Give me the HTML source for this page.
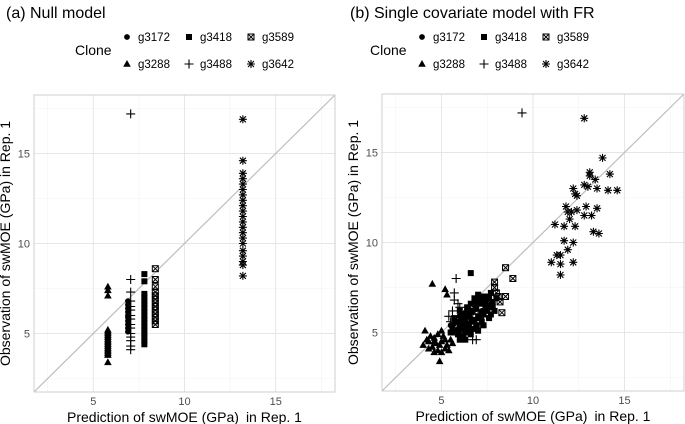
<!DOCTYPE html>
<html><head><meta charset="utf-8"><style>
body{margin:0;background:#fff;}
svg{display:block;font-family:"Liberation Sans",sans-serif;}
</style></head><body>
<svg id="c" width="685" height="424" viewBox="0 0 685 424"></svg>
<script>
// Panel A (null model): predictions per clone and observed values
const clones = ["g3172","g3288","g3418","g3488","g3589","g3642"];
const aPredX = {g3288:5.8,g3172:6.9,g3488:7.05,g3418:7.8,g3589:8.4,g3642:13.2};
const aObsG3288 = [3.4,3.8,3.9,4.0,4.1,4.2,4.3,4.4,4.5,4.6,4.7,4.8,4.9,5.0,5.1,5.2,7.1,7.4,7.6];
const aObsG3172 = [5.1,5.3,5.5,5.7,5.9,6.0,6.2,6.4,6.6,6.8];
const aObsG3488 = [4.1,4.3,4.6,4.8,5.0,5.3,5.5,5.8,6.0,6.3,6.5,6.8,7.3,8.0,17.2];
const aObsG3418 = [4.4,4.6,4.8,5.0,5.2,5.4,5.6,5.8,6.0,6.2,6.4,6.6,6.8,7.0,7.2,7.9,8.3];
const aObsG3589 = [5.5,5.7,5.9,6.1,6.3,6.5,6.7,6.9,7.1,7.3,7.6,8.0,8.6];
const aObsG3642 = [8.2,8.8,9.0,9.3,9.6,10.0,10.3,10.6,10.9,11.2,11.5,11.8,12.1,12.4,12.7,13.0,13.3,13.6,13.9,14.6,16.9];
// Panel B (single covariate with FR): [pred, obs]
const bG3642 = [[12.8,16.9],[13.8,14.7],[13.1,13.9],[14.2,13.8],[14.6,12.9],[14.1,12.9],[13.5,13.0],[12.8,13.2],[12.2,13.0],[12.3,12.7],[11.8,12.0],[12.9,12.0],[13.5,11.9],[13.2,11.5],[12.8,11.5],[12.1,11.7],[11.2,11.0],[12.3,10.9],[11.7,10.9],[13.3,10.6],[13.6,10.5],[11.7,10.1],[12.2,10.0],[11.9,9.6],[11.5,9.3],[11.3,9.3],[11.0,8.9],[12.2,8.9],[11.5,8.8],[11.5,8.2],[13.1,13.7],[13.4,13.5],[12.4,12.6],[11.9,11.7],[12.0,11.3],[12.4,11.8],[13.0,13.1]];
const bG3288 = [[4.0,4.3],[4.1,5.1],[4.3,4.5],[4.5,4.2],[4.6,4.7],[4.8,4.0],[4.9,3.4],[5.0,4.5],[5.2,4.1],[4.4,4.8],[4.7,4.4],[5.3,4.3],[5.5,4.6],[5.1,4.8],[4.2,4.6],[4.6,3.9],[5.4,4.0],[4.5,7.7],[5.2,7.4],[5.3,7.1],[5.0,5.1],[4.8,4.9],[5.6,4.4],[4.3,4.1],[4.9,4.3],[5.2,4.6],[4.6,4.5],[5.0,3.9]];
const bG3172 = [[5.5,5.4],[5.8,5.6],[6.0,5.9],[6.3,6.1],[6.5,6.3],[6.8,6.5],[6.1,5.5],[6.6,5.8],[7.0,6.7],[5.9,5.2],[6.4,6.0],[7.2,6.2],[5.6,5.1],[6.2,5.7],[6.7,6.1],[7.1,6.9],[5.7,5.5],[6.9,6.3]];
const bG3488 = [[9.4,17.2],[5.8,8.0],[5.7,7.2],[5.7,6.8],[5.9,6.6],[6.0,6.4],[6.7,4.6],[6.9,4.6],[5.4,5.9],[5.6,6.2],[6.4,5.2],[6.2,5.0],[7.1,5.5],[7.3,5.9],[7.5,6.5],[6.6,5.5],[5.8,5.7],[7.0,6.2],[5.5,5.6],[6.1,6.0]];
const bG3418 = [[6.6,8.3],[5.6,5.3],[5.9,5.6],[6.1,5.8],[6.3,5.7],[6.5,6.0],[6.7,6.2],[6.9,6.4],[7.1,6.6],[7.3,6.8],[7.5,7.0],[7.7,7.2],[6.2,5.3],[6.5,5.5],[6.8,5.7],[7.0,5.9],[7.2,6.1],[7.4,6.3],[7.6,6.5],[7.8,6.7],[8.0,6.9],[6.0,4.6],[6.3,4.6],[6.6,4.9],[7.0,5.1],[7.3,5.4],[7.6,5.8],[7.9,6.2],[5.8,5.0],[6.4,5.9],[6.9,6.8],[7.2,7.0],[6.0,6.2],[5.7,5.8],[6.1,5.2],[6.3,5.4],[6.5,5.2],[6.7,5.6],[6.9,5.4],[7.1,5.8],[7.3,6.0],[7.5,6.2],[7.7,6.0],[6.4,6.4],[6.6,6.6],[6.8,6.9],[7.0,7.1],[7.4,6.6],[7.8,6.4],[6.2,6.0],[6.0,5.4],[5.9,4.9],[6.4,5.0],[6.8,5.2],[7.2,5.6],[7.6,6.9],[5.5,5.0],[6.2,4.8]];
const bG3589 = [[8.5,8.6],[8.9,8.0],[8.5,7.0],[8.3,6.1],[7.9,7.8],[7.9,7.5],[8.2,6.7],[7.4,6.9],[8.0,7.2],[7.7,6.6],[8.1,7.0]];
const ticks = [5,10,15];
const ticksMinor = [2.5,7.5,12.5,17.5];
const DOM = [1.75,18.25];

const NS="http://www.w3.org/2000/svg";
const svg=document.getElementById('c');
function el(tag,attrs,parent){const e=document.createElementNS(NS,tag);for(const k in attrs)e.setAttribute(k,attrs[k]);(parent||svg).appendChild(e);return e;}
function sym(g,type,cx,cy){
  let e;
  if(type==="g3172"){e=el('circle',{cx:cx,cy:cy,r:2.9,fill:'#000'},g);}
  else if(type==="g3418"){e=el('rect',{x:cx-3,y:cy-3,width:6,height:6,fill:'#000'},g);}
  else if(type==="g3288"){e=el('polygon',{points:`${cx},${cy-4} ${cx-3.8},${cy+2.8} ${cx+3.8},${cy+2.8}`,fill:'#000'},g);}
  else if(type==="g3488"){e=el('path',{d:`M${cx-4.5},${cy}H${cx+4.5}M${cx},${cy-4.5}V${cy+4.5}`,stroke:'#000','stroke-width':1.1,fill:'none'},g);}
  else if(type==="g3589"){e=el('g',{},g);el('rect',{x:cx-3,y:cy-3,width:6,height:6,fill:'none',stroke:'#000','stroke-width':1},e);el('path',{d:`M${cx-3},${cy-3}L${cx+3},${cy+3}M${cx+3},${cy-3}L${cx-3},${cy+3}`,stroke:'#000','stroke-width':1},e);}
  else {e=el('path',{d:`M${cx-4},${cy}H${cx+4}M${cx},${cy-4}V${cy+4}M${cx-3},${cy-3}L${cx+3},${cy+3}M${cx+3},${cy-3}L${cx-3},${cy+3}`,stroke:'#000','stroke-width':1.1},g);}
  
  
  return e;
}
function panel(id,L,T,R,B,title,tx,legX,pointsFn){
  const g=el('g',{});
  
  
  const sx=v=>L+(v-DOM[0])/(DOM[1]-DOM[0])*(R-L);
  const sy=v=>B-(v-DOM[0])/(DOM[1]-DOM[0])*(B-T);
  const t=el('text',{x:tx,y:18,'font-size':16,fill:'#000'},g);t.textContent=title;
  
  const lg=el('g',{},g);
  
  const lt=el('text',{x:legX,y:55,'font-size':14},lg);lt.textContent="Clone";
  const rows=[["g3172","g3418","g3589"],["g3288","g3488","g3642"]];
  rows.forEach((r,ri)=>r.forEach((c,ci)=>{
    const ex=legX+52+ci*62, ey=37+ri*27;
    const eg=el('g',{},lg);
    
    sym(eg,c,ex,ey);
    const tt=el('text',{x:ex+11,y:ey+4,'font-size':11.5},eg);tt.textContent=c;
  }));
  el('rect',{x:L,y:T,width:R-L,height:B-T,fill:'#fff'},g);
  ticksMinor.forEach(v=>{
    el('line',{x1:sx(v),x2:sx(v),y1:T,y2:B,stroke:'#f3f3f3','stroke-width':0.6},g);
    el('line',{x1:L,x2:R,y1:sy(v),y2:sy(v),stroke:'#f3f3f3','stroke-width':0.6},g);
  });
  ticks.forEach(v=>{
    el('line',{x1:sx(v),x2:sx(v),y1:T,y2:B,stroke:'#e6e6e6','stroke-width':1},g);
    el('line',{x1:L,x2:R,y1:sy(v),y2:sy(v),stroke:'#e6e6e6','stroke-width':1},g);
    const a=el('text',{x:sx(v),y:B+13,'font-size':11,fill:'#4d4d4d','text-anchor':'middle'},g);a.textContent=v;
    
    const b=el('text',{x:L-4,y:sy(v)+4,'font-size':11,fill:'#4d4d4d','text-anchor':'end'},g);b.textContent=v;
    
  });
  const dl=el('line',{x1:sx(DOM[0]),y1:sy(DOM[0]),x2:sx(DOM[1]),y2:sy(DOM[1]),stroke:'#bdbdbd','stroke-width':1.2},g);
  
  const pg=el('g',{},g);
  pointsFn(pg,sx,sy);
  el('rect',{x:L,y:T,width:R-L,height:B-T,fill:'none',stroke:'#cfcfcf','stroke-width':1},g);
  const xt=el('text',{x:(L+R)/2,y:B+30,'font-size':14,'text-anchor':'middle'},g);xt.textContent="Prediction of swMOE (GPa)\u2002in Rep. 1";
  
  const yt=el('text',{x:0,y:0,'font-size':14,'text-anchor':'middle',transform:`translate(${L-24},${(T+B)/2}) rotate(-90)`},g);yt.textContent="Observation of swMOE (GPa) in Rep. 1";
  
}
panel('panel-a-null-model',34,95,335,392,"(a) Null model",6,75,(g,sx,sy)=>{
  const m={g3288:aObsG3288,g3172:aObsG3172,g3488:aObsG3488,g3418:aObsG3418,g3589:aObsG3589,g3642:aObsG3642};
  for(const c in m) m[c].forEach(v=>sym(g,c,sx(aPredX[c]),sy(v)));
});
panel('panel-b-single-covariate',382,94,684,391,"(b) Single covariate model with FR",350,370,(g,sx,sy)=>{
  const m={g3288:bG3288,g3172:bG3172,g3418:bG3418,g3488:bG3488,g3589:bG3589,g3642:bG3642};
  for(const c in m) m[c].forEach(p=>sym(g,c,sx(p[0]),sy(p[1])));
});
</script>
</body></html>
